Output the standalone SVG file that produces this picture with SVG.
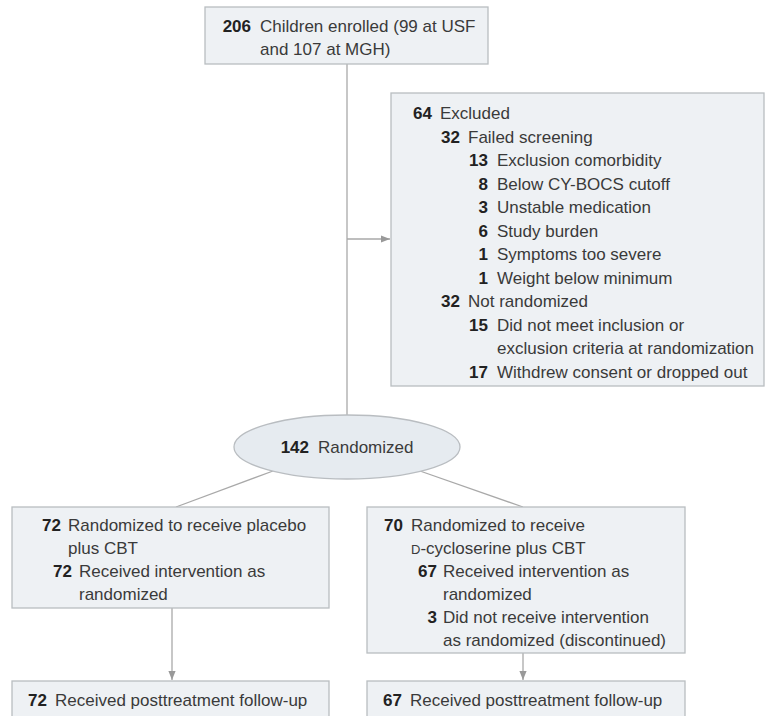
<svg xmlns="http://www.w3.org/2000/svg" width="765" height="716" viewBox="0 0 765 716">
<style>
  .box { fill: #eef1f4; stroke: #b9bdc1; stroke-width: 1.3; }
  .ell { fill: #e6ebf0; stroke: #b9bdc1; stroke-width: 1.3; }
  .line { fill: none; stroke: #a9a9a9; stroke-width: 1.3; }
  text { font-family: "Liberation Sans", Arial, sans-serif; font-size: 17px; fill: #3a3a3a; }
  .n { font-weight: bold; fill: #222; text-anchor: end; }
</style>
<defs>
  <marker id="arr" viewBox="0 0 10 10" refX="10" refY="5" markerWidth="9" markerHeight="9" markerUnits="userSpaceOnUse" orient="auto">
    <path d="M0,1 L10,5 L0,9 Z" fill="#999"/>
  </marker>
</defs>
<rect width="765" height="716" fill="#ffffff"/>

<g id="connectors">
  <line class="line" x1="347" y1="64" x2="347" y2="415"/>
  <line class="line" x1="347" y1="239" x2="390" y2="239" marker-end="url(#arr)"/>
  <line class="line" x1="273" y1="471" x2="176" y2="507"/>
  <line class="line" x1="420" y1="471" x2="523" y2="507"/>
  <line class="line" x1="172" y1="608" x2="172" y2="680" marker-end="url(#arr)"/>
  <line class="line" x1="523" y1="653" x2="523" y2="680" marker-end="url(#arr)"/>
</g>

<g id="enrolled">
  <rect class="box" x="205" y="7" width="283" height="57"/>
  <text class="n" x="251" y="32">206</text>
  <text x="260" y="32">Children enrolled (99 at USF</text>
  <text x="260" y="55">and 107 at MGH)</text>
</g>

<g id="excluded">
  <rect class="box" x="391" y="93" width="373" height="293"/>
  <text class="n" x="432" y="119">64</text><text x="440" y="119">Excluded</text>
  <text class="n" x="460" y="142.5">32</text><text x="468" y="142.5">Failed screening</text>
  <text class="n" x="488" y="166">13</text><text x="497" y="166">Exclusion comorbidity</text>
  <text class="n" x="488" y="189.5">8</text><text x="497" y="189.5">Below CY-BOCS cutoff</text>
  <text class="n" x="488" y="213">3</text><text x="497" y="213">Unstable medication</text>
  <text class="n" x="488" y="236.5">6</text><text x="497" y="236.5">Study burden</text>
  <text class="n" x="488" y="260">1</text><text x="497" y="260">Symptoms too severe</text>
  <text class="n" x="488" y="283.5">1</text><text x="497" y="283.5">Weight below minimum</text>
  <text class="n" x="460" y="307">32</text><text x="468" y="307">Not randomized</text>
  <text class="n" x="488" y="330.5">15</text><text x="497" y="330.5">Did not meet inclusion or</text>
  <text x="497" y="354">exclusion criteria at randomization</text>
  <text class="n" x="488" y="377.5">17</text><text x="497" y="377.5">Withdrew consent or dropped out</text>
</g>

<g id="randomized">
  <ellipse class="ell" cx="347" cy="447" rx="113" ry="32"/>
  <text class="n" x="309" y="453">142</text>
  <text x="318" y="453">Randomized</text>
</g>

<g id="placebo">
  <rect class="box" x="12" y="507" width="317" height="101"/>
  <text class="n" x="61" y="531">72</text><text x="68" y="531">Randomized to receive placebo</text>
  <text x="68" y="554">plus CBT</text>
  <text class="n" x="72" y="577">72</text><text x="79" y="577">Received intervention as</text>
  <text x="79" y="600">randomized</text>
</g>

<g id="dcs">
  <rect class="box" x="367" y="507" width="318" height="146"/>
  <text class="n" x="403" y="531">70</text><text x="411" y="531">Randomized to receive</text>
  <text x="411" y="554"><tspan font-size="13">D</tspan>-cycloserine plus CBT</text>
  <text class="n" x="437" y="577">67</text><text x="443" y="577">Received intervention as</text>
  <text x="443" y="600">randomized</text>
  <text class="n" x="437" y="623">3</text><text x="443" y="623">Did not receive intervention</text>
  <text x="443" y="646">as randomized (discontinued)</text>
</g>

<g id="followup-placebo">
  <rect class="box" x="12" y="681" width="317" height="50"/>
  <text class="n" x="47" y="706">72</text><text x="55" y="706">Received posttreatment follow-up</text>
</g>

<g id="followup-dcs">
  <rect class="box" x="367" y="681" width="318" height="50"/>
  <text class="n" x="402" y="706">67</text><text x="410" y="706">Received posttreatment follow-up</text>
</g>
</svg>
